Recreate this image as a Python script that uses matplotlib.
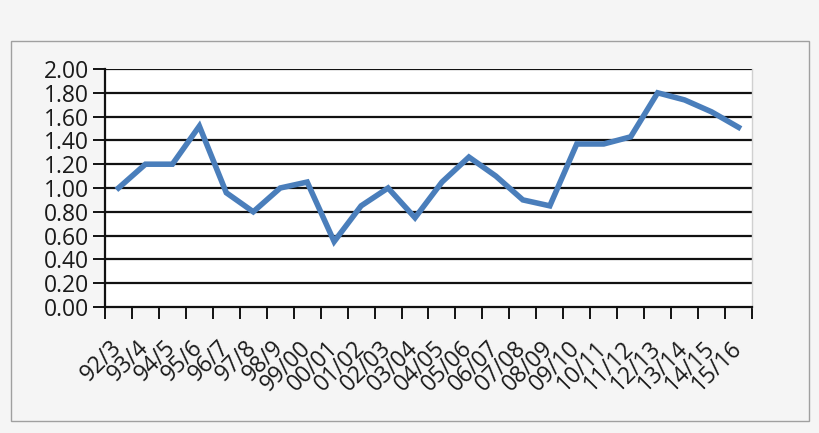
import matplotlib
matplotlib.use("Agg")
import matplotlib.pyplot as plt
from matplotlib.patches import Rectangle
from matplotlib.ticker import FixedLocator, FixedFormatter, NullFormatter

categories = ["92/3", "93/4", "94/5", "95/6", "96/7", "97/8", "98/9", "99/00",
              "00/01", "01/02", "02/03", "03/04", "04/05", "05/06", "06/07",
              "07/08", "08/09", "09/10", "10/11", "11/12", "12/13", "13/14",
              "14/15", "15/16"]
values = [1.00, 1.20, 1.20, 1.52, 0.96, 0.80, 1.00, 1.05, 0.55, 0.85, 1.00,
          0.75, 1.05, 1.26, 1.10, 0.90, 0.85, 1.37, 1.37, 1.43, 1.80, 1.74,
          1.64, 1.51]
y_ticks = [0.0, 0.2, 0.4, 0.6, 0.8, 1.0, 1.2, 1.4, 1.6, 1.8, 2.0]
y_labels = ["0.00", "0.20", "0.40", "0.60", "0.80", "1.00", "1.20", "1.40",
            "1.60", "1.80", "2.00"]

plt.rcParams["font.family"] = ["Open Sans", "DejaVu Sans"]

bg = "#f5f5f5"
fig = plt.figure(figsize=(8.2, 4.33), dpi=100, facecolor=bg)
fig.patches.append(Rectangle((11 / 820, 1 - 421 / 433), 798 / 820, 380 / 433,
                             transform=fig.transFigure, facecolor="none",
                             edgecolor="#a0a0a0", linewidth=1.0))

ax = fig.add_axes([105 / 820, 1 - 307 / 433, 647 / 820, 238 / 433])
ax.set_facecolor("white")

x = list(range(len(categories)))
for yt in y_ticks:
    if yt > 0:
        ax.axhline(yt, color="#111111", linewidth=1.6, zorder=1)
ax.plot(x, values, color="#4a7ebb", linewidth=4.0, solid_joinstyle="miter", zorder=3)

ax.set_xlim(-0.5, len(categories) - 0.5)
ax.set_ylim(0, 2.0)

# boundary ticks
ax.xaxis.set_major_locator(FixedLocator([i - 0.5 for i in range(len(categories) + 1)]))
ax.xaxis.set_major_formatter(NullFormatter())
ax.xaxis.set_minor_locator(FixedLocator(x))
ax.xaxis.set_minor_formatter(FixedFormatter(categories))
ax.tick_params(axis="x", which="major", direction="out", length=8.5, width=1.4, color="#111111")
ax.tick_params(axis="x", which="minor", length=0, pad=27, labelsize=16.5, labelcolor="#1a1a1a")
for lab in ax.get_xticklabels(minor=True):
    lab.set_rotation(45)
    lab.set_ha("right")
    lab.set_va("center")
    lab.set_rotation_mode("anchor")

ax.set_yticks(y_ticks)
ax.set_yticklabels(y_labels)
ax.tick_params(axis="y", direction="out", length=8.5, width=1.4, color="#111111",
               pad=3, labelsize=16.5, labelcolor="#1a1a1a")

ax.spines["top"].set_visible(False)
ax.spines["right"].set_color("#d0d0d0")
ax.spines["right"].set_linewidth(1.0)
ax.spines["left"].set_color("#111111")
ax.spines["left"].set_linewidth(1.6)
ax.spines["bottom"].set_color("#111111")
ax.spines["bottom"].set_linewidth(1.6)

fig.savefig("out.png", dpi=100, facecolor=bg)
